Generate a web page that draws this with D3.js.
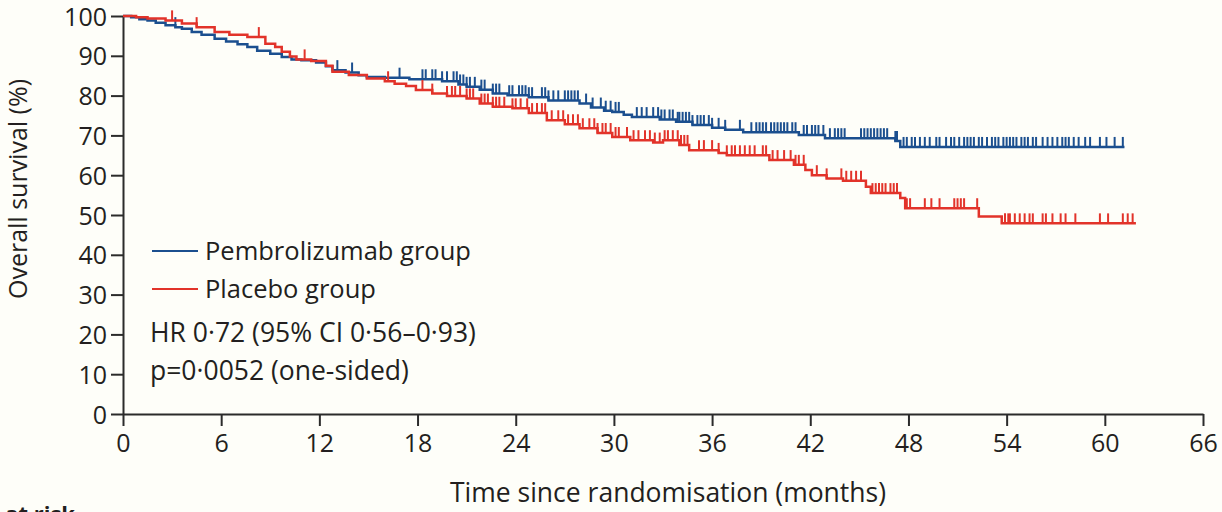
<!DOCTYPE html>
<html>
<head>
<meta charset="utf-8">
<title>Overall survival</title>
<style>
  body { margin: 0; background: #fefef9; }
  svg { display: block; }
  .axis path, .axis line { stroke: #2b2b2b; stroke-width: 2; fill: none; }
  .axis text { font-family: "Open Sans", sans-serif; font-size: 25px; fill: #231f20; }
  .lbl { font-family: "Open Sans", sans-serif; fill: #231f20; }
</style>
</head>
<body>
<script src="https://cdn.jsdelivr.net/npm/d3@7"></script>
<script>
// ===== data =====
var yTicks = [0, 10, 20, 30, 40, 50, 60, 70, 80, 90, 100];
var xTicks = [0, 6, 12, 18, 24, 30, 36, 42, 48, 54, 60, 66];

// pembrolizumab: step times (months) and survival (%)
var pembroTime = [0, 0.5, 1.0, 1.5, 2.0, 2.6, 3.2, 3.6, 4.2, 4.8, 5.6, 6.3, 7.0, 7.6, 8.2, 9.0, 9.7, 10.3, 10.9, 11.8,
  12.4, 12.8, 13.6, 14.4, 14.9, 16.0, 17.5, 19.5, 20.5, 21.0, 21.8, 22.6, 23.5, 24.8, 26.0, 27.9, 28.6, 29.4, 29.9,
  30.6, 31.1, 32.8, 33.8, 34.8, 36.0, 36.8, 37.9, 41.3, 42.9, 47.2, 47.5, 61.2];
var pembroSurv = [100, 99.7, 99.2, 98.9, 98.3, 97.7, 97.2, 96.8, 96.0, 95.3, 94.3, 93.6, 92.9, 92.2, 91.3, 90.5, 89.7, 89.1, 88.9, 88.3,
  87.4, 86.4, 85.8, 85.1, 84.7, 84.5, 84.1, 83.6, 82.8, 82.2, 81.5, 80.5, 80.1, 79.6, 78.8, 78.0, 77.0, 76.2, 75.9,
  75.2, 74.6, 74.0, 73.4, 72.6, 71.9, 71.4, 70.8, 70.1, 69.3, 68.6, 67.1, 67.1];
var pembroCensor = [3.2, 13.1, 14.0, 16.9,
  18.3, 18.5, 18.9, 19.1, 19.5, 19.8, 20.2, 20.4, 20.6, 20.8, 21.0, 21.2, 21.5,
  21.9, 22.1, 22.6, 22.8, 23.0, 23.6, 23.8, 24.2, 24.4, 24.6, 24.8, 25.0, 25.6, 25.8, 26.0, 26.3, 26.6, 27.0, 27.2,
  27.4, 27.6, 27.8, 28.3, 28.7, 29.2, 29.5, 29.8, 30.1, 30.3, 31.4, 31.7, 32.0, 32.4, 32.7,
  32.9, 33.1, 33.4, 33.6, 33.9, 34.0, 34.2, 34.4, 34.6, 34.8, 35.1, 35.3, 35.5, 35.8, 36.0, 36.4, 36.8, 37.7, 38.4,
  38.7, 38.9, 39.1, 39.3, 39.6, 39.8, 40.0, 40.2, 40.4, 40.6, 40.9, 41.1, 41.6, 41.8, 42.1, 42.3, 42.5, 42.8, 43.2,
  43.5, 43.7, 43.9, 44.1, 45.1, 45.3, 45.5, 45.7, 45.9, 46.1, 46.3, 46.5, 46.7, 47.2, 47.3,
  47.7, 47.9, 48.2, 48.4, 48.7, 49.0, 49.3, 49.7, 49.9, 50.3, 50.6, 50.8, 51.1, 51.4, 51.6, 51.8, 52.0, 52.3, 52.5,
  52.8, 53.1, 53.3, 53.5, 53.8, 54.0, 54.2, 54.4, 54.6, 54.9, 55.1, 55.3, 55.6, 55.8, 56.2, 56.5, 56.8, 57.1, 57.4,
  57.6, 57.8, 58.1, 58.4, 58.8, 59.1, 59.7, 60.1, 60.6, 61.1];

// placebo
var placeboTime = [0, 0.8, 1.5, 2.6, 3.6, 4.5, 5.6, 6.5, 7.6, 8.7, 9.3, 9.7, 10.2, 10.6, 11.5, 12.4, 12.8, 13.8, 14.9,
  16.0, 16.6, 17.3, 17.9, 18.9, 19.8, 21.0, 21.8, 22.6, 23.8, 24.8, 25.9, 27.0, 27.9, 29.0, 29.9, 31.0, 32.4, 33.0,
  34.0, 34.6, 36.4, 36.9, 39.5, 41.0, 41.7, 42.1, 43.0, 44.0, 45.4, 45.7, 47.5, 47.8, 52.3, 53.7, 61.9];
var placeboSurv = [100, 99.7, 99.4, 98.9, 98.1, 97.2, 96.0, 95.3, 94.7, 93.0, 92.2, 91.0, 89.8, 89.1, 88.7, 87.5, 86.0, 85.2, 84.3,
  83.6, 83.0, 82.4, 81.4, 80.5, 79.9, 79.3, 78.0, 77.2, 76.8, 75.6, 73.8, 72.8, 71.8, 70.6, 69.6, 68.8, 68.2, 68.8,
  67.6, 66.3, 65.6, 65.0, 63.8, 62.6, 61.3, 60.0, 59.2, 58.6, 57.1, 55.5, 54.3, 51.7, 49.6, 47.9, 47.9];
var placeboCensor = [3.0, 4.5, 8.3, 11.1, 16.2,
  18.3, 18.9, 19.8, 20.1, 20.3, 20.6, 21.0, 21.2, 21.4,
  21.9, 22.1, 22.3, 22.6, 22.8, 23.0, 23.3, 23.8, 24.0, 24.3, 24.7, 25.0, 25.3, 25.6, 25.8, 26.2, 26.6, 26.9, 27.2,
  27.5, 27.8, 28.1, 28.5, 28.8, 29.0, 29.3, 29.5, 29.8, 30.1, 30.3, 30.8, 31.2, 31.5, 31.9, 32.2, 32.5,
  32.8, 33.1, 33.3, 33.6, 33.9, 34.1, 34.3, 34.5, 35.2, 35.5, 36.0, 36.4, 36.9, 37.2, 37.4, 37.7, 38.0, 38.3, 38.6,
  39.1, 39.3, 39.7, 40.0, 40.4, 40.8, 41.1, 41.3, 41.6, 42.4, 43.0,
  43.9, 44.2, 44.5, 44.8, 45.1, 45.8, 46.0, 46.2, 46.4, 46.6, 46.9, 47.1, 47.3, 47.9, 48.1,
  49.0, 49.4, 49.9, 50.8, 51.0, 51.2, 51.4, 52.2, 53.9, 54.1, 54.2, 54.5, 54.8, 55.1, 55.4, 55.6, 56.2, 56.4, 56.8,
  57.3, 57.6, 58.2, 59.7, 60.2, 61.1, 61.4, 61.7];

var series = [
  { name: "Pembrolizumab group", color: "#1b4f8f", time: pembroTime, surv: pembroSurv, censor: pembroCensor },
  { name: "Placebo group", color: "#e2332a", time: placeboTime, surv: placeboSurv, censor: placeboCensor }
];

// ===== size =====
var W = 1222, H = 512;
var margin = { top: 16, left: 123, right: 19, bottom: 98 };

var x = d3.scaleLinear().domain([0, 66]).range([margin.left, W - margin.right]);
var y = d3.scaleLinear().domain([0, 100]).range([H - margin.bottom, margin.top]);

var svg = d3.select("body").append("svg").attr("width", W).attr("height", H);

// axes
svg.append("g").attr("class", "axis")
  .attr("transform", "translate(0," + y(0) + ")")
  .call(d3.axisBottom(x).tickValues(xTicks).tickSize(12).tickSizeOuter(0).tickPadding(8));

svg.append("g").attr("class", "axis")
  .attr("transform", "translate(" + x(0) + ",0)")
  .call(d3.axisLeft(y).tickValues(yTicks).tickSize(12).tickSizeOuter(0).tickPadding(4));

svg.selectAll(".axis .tick text").each(function () {
  var t = d3.select(this);
  if (t.attr("x") < 0) t.attr("dy", "0.36em");
  else t.attr("dy", "0.72em");
});

// curves
var line = d3.line().curve(d3.curveStepAfter)
  .x(function (d) { return x(d[0]); })
  .y(function (d) { return y(d[1]); });

series.forEach(function (s) {
  var pts = s.time.map(function (t, i) { return [t, s.surv[i]]; });
  var g = svg.append("g");
  g.append("path").attr("d", line(pts))
    .attr("fill", "none").attr("stroke", s.color).attr("stroke-width", 2.5);
  var bis = d3.bisector(function (d) { return d[0]; }).right;
  g.selectAll("line").data(s.censor).enter().append("line")
    .attr("x1", function (d) { return x(d); })
    .attr("x2", function (d) { return x(d); })
    .attr("y1", function (d) { return y(pts[Math.max(0, bis(pts, d) - 1)][1]); })
    .attr("y2", function (d) { return y(pts[Math.max(0, bis(pts, d) - 1)][1]) - 10; })
    .attr("stroke", s.color).attr("stroke-width", 2);
});

// legend
series.forEach(function (s, i) {
  var ly = 251 + i * 38;
  svg.append("line").attr("x1", 152).attr("x2", 198).attr("y1", ly).attr("y2", ly)
    .attr("stroke", s.color).attr("stroke-width", 2);
  svg.append("text").attr("class", "lbl").attr("x", 205).attr("y", ly + 9)
    .attr("font-size", 25.5).text(s.name);
});

svg.append("text").attr("class", "lbl").attr("x", 150).attr("y", 342)
  .attr("font-size", 26.5).text("HR 0·72 (95% CI 0·56–0·93)");
svg.append("text").attr("class", "lbl").attr("x", 150).attr("y", 380)
  .attr("font-size", 26.5).text("p=0·0052 (one-sided)");

// axis titles
svg.append("text").attr("class", "lbl")
  .attr("transform", "translate(27,189) rotate(-90)")
  .attr("text-anchor", "middle").attr("font-size", 25)
  .text("Overall survival (%)");

svg.append("text").attr("class", "lbl")
  .attr("x", 668).attr("y", 502).attr("text-anchor", "middle").attr("font-size", 26.5)
  .text("Time since randomisation (months)");

svg.append("text").attr("class", "lbl")
  .attr("x", 75).attr("y", 522).attr("text-anchor", "end").attr("font-size", 22)
  .attr("font-weight", "bold").text("Number at risk");
</script>
</body>
</html>
